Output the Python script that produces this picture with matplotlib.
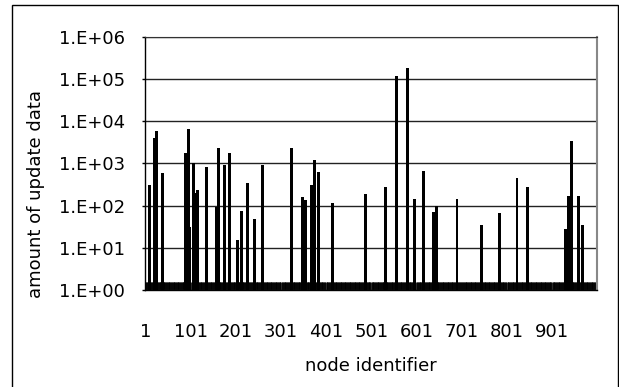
import numpy as np
import matplotlib
matplotlib.use("Agg")
import matplotlib.pyplot as plt
from matplotlib.patches import Rectangle

# node ids with non-trivial update data, and their amounts
nodes = [9, 21, 26, 39, 90, 97, 99, 107, 112, 117, 136, 158, 162, 175, 188,
         204, 213, 226, 243, 260, 325, 349, 356, 369, 376, 385, 415, 489, 532,
         558, 581, 597, 616, 638, 645, 691, 746, 786, 824, 847, 931, 939, 944,
         960, 970]
amounts = [300, 4000, 5900, 580, 1740, 6400, 30, 1000, 200, 230, 800, 91, 2300,
           900, 1740, 14, 75, 350, 47, 900, 2350, 158, 134, 300, 1180, 610, 116,
           182, 278, 115000, 183000, 144, 655, 71, 96, 144, 34, 65, 447, 278, 27,
           166, 3300, 166, 34]

n_nodes = 1000
xtick_vals = [1, 101, 201, 301, 401, 501, 601, 701, 801, 901]
ytick_vals = [1e0, 1e1, 1e2, 1e3, 1e4, 1e5, 1e6]
ytick_labels = ["1.E+00", "1.E+01", "1.E+02", "1.E+03", "1.E+04", "1.E+05", "1.E+06"]

plt.rcParams['font.family'] = ['DejaVu Sans']

W, H = 619, 387
fig = plt.figure(figsize=(W / 100, H / 100), dpi=100)
left, right, top, bottom = 145.3, 596.7, 36.7, 290.0
ax = fig.add_axes([left / W, 1 - bottom / H, (right - left) / W, (bottom - top) / H])

ax.bar(nodes, amounts, width=6.5, bottom=1, color="black", linewidth=0, zorder=3)

ax.set_yscale("log")
ax.set_ylim(1, 1e6)
ax.set_xlim(0.5, n_nodes + 0.5)

ax.set_yticks(ytick_vals)
ax.set_yticklabels(ytick_labels, fontsize=13)
ax.yaxis.set_minor_locator(matplotlib.ticker.NullLocator())
ax.tick_params(axis="y", direction="out", length=2.5, width=1, pad=12)
ax.grid(axis="y", color="#222222", linewidth=1, zorder=1)

ax.set_xticks(xtick_vals)
ax.set_xticklabels([str(v) for v in xtick_vals], fontsize=13)
ax.set_xticks(np.arange(1, n_nodes + 1), minor=True)
ax.tick_params(axis="x", which="major", length=0, pad=24)
ax.tick_params(axis="x", which="minor", direction="in", length=6, width=0.6, color="black")

for s in ["left", "bottom"]:
    ax.spines[s].set_color("black")
    ax.spines[s].set_linewidth(1)
ax.spines["top"].set_color("#333333")
ax.spines["right"].set_color("#888888")
ax.spines["right"].set_linewidth(1.5)

ax.set_ylabel("amount of update data", fontsize=13, labelpad=10)
ax.set_xlabel("node identifier", fontsize=13, labelpad=10)
ax.yaxis.set_label_coords(45 / W, 0.5, transform=fig.transFigure)
ax.xaxis.set_label_coords(371 / W, 1 - 357 / H, transform=fig.transFigure)

# outer chart-area border
fig.patches.append(Rectangle((12.3 / W, -0.1), (617.7 - 12.3) / W, 1.1 - 4.7 / H,
                             transform=fig.transFigure, fill=False,
                             edgecolor="black", linewidth=1))

fig.savefig("out.png", dpi=100)
